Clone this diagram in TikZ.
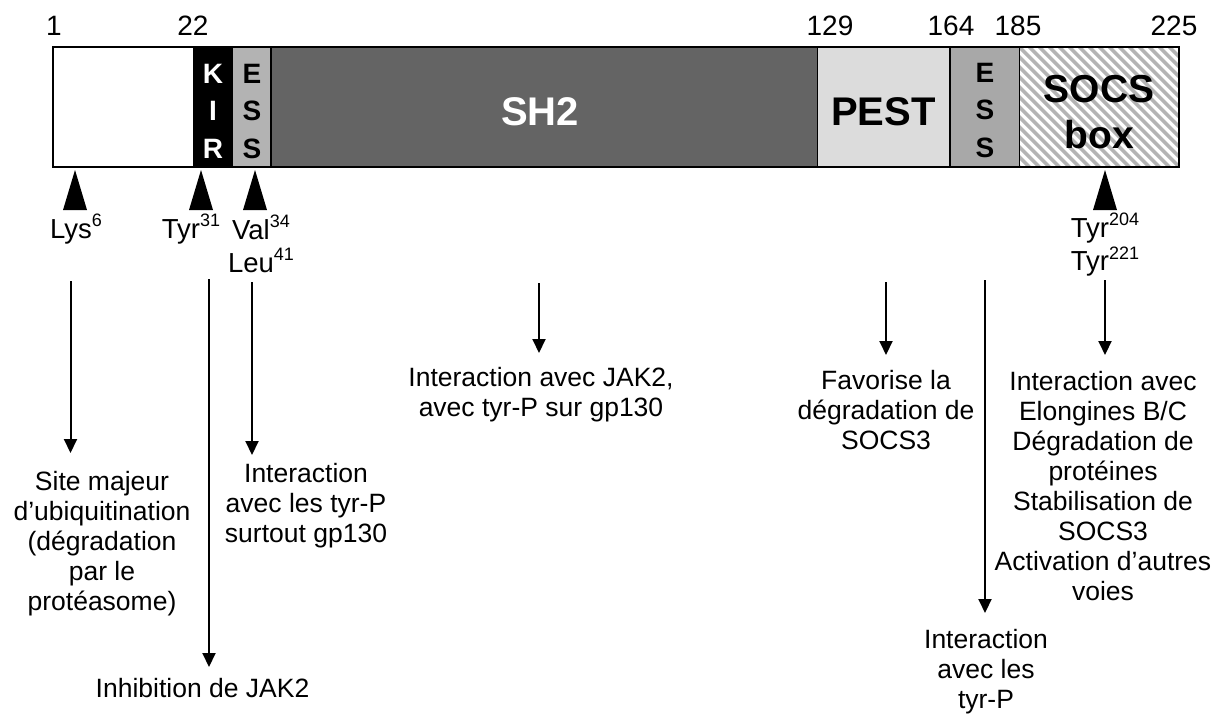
\documentclass[tikz,border=0pt]{standalone}
\usepackage{fontspec}
\setmainfont{Liberation Sans}
\usetikzlibrary{arrows.meta}
\definecolor{essA}{HTML}{B3B3B3}
\definecolor{essB}{HTML}{A8A8A8}
\definecolor{shdark}{HTML}{646464}
\definecolor{pestc}{HTML}{DCDCDC}
\definecolor{hatchc}{HTML}{B4B4B4}
\newcommand\ml[1]{\begin{tabular}[t]{@{}c@{}}#1\end{tabular}}
\newcommand\sups[1]{\raisebox{0.42em}{\fontsize{18}{18}\selectfont #1}}
\tikzset{
  num/.style={font=\fontsize{28}{32}\selectfont, anchor=base, inner sep=0pt},
  lab/.style={font=\fontsize{27.5}{32}\selectfont, anchor=base, inner sep=0pt},
  desc/.style={font=\fontsize{26.5}{30}\selectfont, anchor=base, inner sep=0pt},
  dom/.style={font=\fontsize{40}{46}\selectfont\bfseries, anchor=base, inner sep=0pt},
  dletter/.style={font=\fontsize{28}{37.5}\selectfont\bfseries, anchor=base, inner sep=0pt},
  seg/.style={draw=black, line width=1.5pt},
  site/.style={fill=black},
  hatch/.style={draw=hatchc, line width=3.6pt},
  arr/.style={-{Triangle[length=14pt,width=13pt]}, line width=2pt},
}
\begin{document}
\begin{tikzpicture}[x=1pt,y=-1pt]
\useasboundingbox[fill=white] (0,0) rectangle (1223,720);
% domains
\fill[white] (53,47) rectangle (193.3,167);
\fill[black] (193.3,47) rectangle (232.7,167);
\filldraw[seg, fill=essA] (232.7,47) rectangle (271,167);
\filldraw[seg, fill=shdark] (271,47) rectangle (817.3,167);
\filldraw[seg, fill=pestc] (817.3,47) rectangle (950,167);
\filldraw[seg, fill=essB] (950,47) rectangle (1019.3,167);
\begin{scope}
  \clip (1019.3,47) rectangle (1179,167);
  \foreach \k in {-13,...,17} { \draw[hatch] (1019.3+\k*10,47) -- ++(120,120); }
\end{scope}
\draw[seg] (1019.3,47) -- (1019.3,167);
\draw[line width=2pt] (53,47) rectangle (1179,167);
% domain labels
\node[dletter, text=white] (kir) at (213,83) {\ml{K\\I\\R}};
\node[dletter] (ess1) at (252,83) {\ml{E\\S\\S}};
\node[dom, text=white] (sh2) at (540,125) {SH2};
\node[dom] (pest) at (883.5,125) {PEST};
\node[dletter] (ess2) at (985,82) {\ml{E\\S\\S}};
\node[dom, font=\fontsize{39}{46}\selectfont\bfseries] (socs) at (1099,102) {\ml{SOCS\\box}};
% residue numbers
\node[num] (n1) at (54,35) {1};
\node[num] (n22) at (193,35) {22};
\node[num] (n129) at (830,35) {129};
\node[num] (n164) at (951,35) {164};
\node[num] (n185) at (1018,35) {185};
\node[num] (n225) at (1174,35) {225};
% site triangles
\fill[site] (63,210) -- (87,210) -- (75,170) -- cycle;
\fill[site] (189,210) -- (213,210) -- (201,170) -- cycle;
\fill[site] (243,210) -- (267,210) -- (255,170) -- cycle;
\fill[site] (1093,210) -- (1117,210) -- (1105,170) -- cycle;
% residue labels
\node[lab] (lys) at (76,238) {Lys\sups{6}};
\node[lab] (tyr31) at (191,238) {Tyr\sups{31}};
\node[lab] (valleu) at (261,239) {\ml{Val\sups{34}\\Leu\sups{41}}};
\node[lab] (tyr204) at (1105,237) {\ml{Tyr\sups{204}\\Tyr\sups{221}}};
% descriptions
\node[desc] (dsite) at (102,490) {\ml{Site majeur\\d’ubiquitination\\(dégradation\\par le\\protéasome)}};
\node[desc] (dinh) at (202.5,697) {Inhibition de JAK2};
\node[desc] (dval) at (306,482) {\ml{Interaction\\avec les tyr-P\\surtout gp130}};
\node[desc] (dsh2) at (541,386) {\ml{Interaction avec JAK2,\\avec tyr-P sur gp130}};
\node[desc] (dpest) at (886,389) {\ml{Favorise la\\dégradation de\\SOCS3}};
\node[desc] (dess) at (986,648) {\ml{Interaction\\avec les\\tyr-P}};
\node[desc] (dsocs) at (1103,390) {\ml{Interaction avec\\Elongines B/C\\Dégradation de\\protéines\\Stabilisation de\\SOCS3\\Activation d’autres\\voies}};
% arrow end points
\coordinate (aLysS) at (70.5,281); \coordinate (aLysE) at (70.5,453);
\coordinate (aTyrS) at (209,279);  \coordinate (aTyrE) at (209,667);
\coordinate (aValS) at (252,282);  \coordinate (aValE) at (252,455);
\coordinate (aShS) at (539,283);   \coordinate (aShE) at (539,353);
\coordinate (aPeS) at (886,282);   \coordinate (aPeE) at (886,355);
\coordinate (aEsS) at (985,280);   \coordinate (aEsE) at (985,613);
\coordinate (aSoS) at (1105,280);  \coordinate (aSoE) at (1105,355);
\draw[arr] (aLysS) -- (aLysE);
\draw[arr] (aTyrS) -- (aTyrE);
\draw[arr] (aValS) -- (aValE);
\draw[arr] (aShS) -- (aShE);
\draw[arr] (aPeS) -- (aPeE);
\draw[arr] (aEsS) -- (aEsE);
\draw[arr] (aSoS) -- (aSoE);
\end{tikzpicture}
\end{document}
